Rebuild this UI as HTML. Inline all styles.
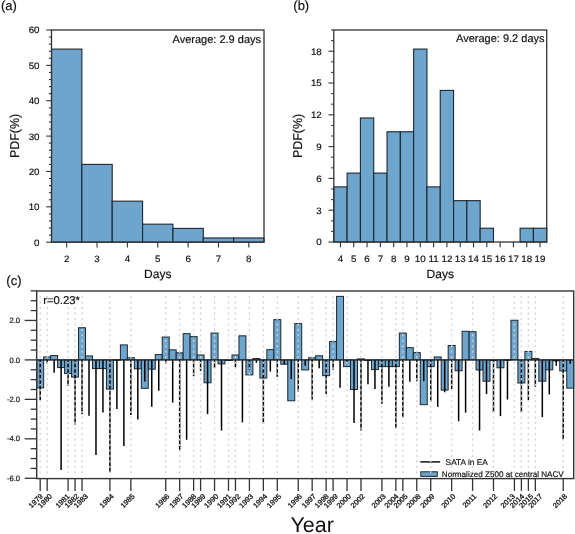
<!DOCTYPE html>
<html><head><meta charset="utf-8"><style>
html,body{margin:0;padding:0;background:#fff;}
body{width:575px;height:534px;overflow:hidden;font-family:"Liberation Sans", sans-serif;}
svg{display:block;will-change:transform;}
</style></head><body>
<svg width="575" height="534" viewBox="0 0 575 534" font-family='"Liberation Sans", sans-serif' fill="#111" text-rendering="geometricPrecision">
<style>text{stroke:#111;stroke-width:0.18px;}</style>
<rect width="575" height="534" fill="#fff"/>
<rect x="51.5" y="49.1" width="30.36" height="193.1" fill="#6da5cc" stroke="#1c2630" stroke-width="1.1"/>
<rect x="81.86" y="164.39" width="30.36" height="77.81" fill="#6da5cc" stroke="#1c2630" stroke-width="1.1"/>
<rect x="112.21" y="201.17" width="30.36" height="41.03" fill="#6da5cc" stroke="#1c2630" stroke-width="1.1"/>
<rect x="142.57" y="224.16" width="30.36" height="18.04" fill="#6da5cc" stroke="#1c2630" stroke-width="1.1"/>
<rect x="172.93" y="228.41" width="30.36" height="13.79" fill="#6da5cc" stroke="#1c2630" stroke-width="1.1"/>
<rect x="203.29" y="237.96" width="30.36" height="4.24" fill="#6da5cc" stroke="#1c2630" stroke-width="1.1"/>
<rect x="233.64" y="237.96" width="30.36" height="4.24" fill="#6da5cc" stroke="#1c2630" stroke-width="1.1"/>
<rect x="51.5" y="30" width="212.5" height="212.2" fill="none" stroke="#333" stroke-width="1.3"/>
<line x1="46.2" y1="242.2" x2="51.5" y2="242.2" stroke="#333" stroke-width="1.1"/>
<text transform="translate(39.5,245.6) scale(1.05,1)" font-size="9.3" text-anchor="end">0</text>
<line x1="48.9" y1="235.13" x2="51.5" y2="235.13" stroke="#333" stroke-width="1.1"/>
<line x1="48.9" y1="228.05" x2="51.5" y2="228.05" stroke="#333" stroke-width="1.1"/>
<line x1="48.9" y1="220.98" x2="51.5" y2="220.98" stroke="#333" stroke-width="1.1"/>
<line x1="48.9" y1="213.91" x2="51.5" y2="213.91" stroke="#333" stroke-width="1.1"/>
<line x1="46.2" y1="206.83" x2="51.5" y2="206.83" stroke="#333" stroke-width="1.1"/>
<text transform="translate(39.5,210.23) scale(1.05,1)" font-size="9.3" text-anchor="end">10</text>
<line x1="48.9" y1="199.76" x2="51.5" y2="199.76" stroke="#333" stroke-width="1.1"/>
<line x1="48.9" y1="192.69" x2="51.5" y2="192.69" stroke="#333" stroke-width="1.1"/>
<line x1="48.9" y1="185.61" x2="51.5" y2="185.61" stroke="#333" stroke-width="1.1"/>
<line x1="48.9" y1="178.54" x2="51.5" y2="178.54" stroke="#333" stroke-width="1.1"/>
<line x1="46.2" y1="171.47" x2="51.5" y2="171.47" stroke="#333" stroke-width="1.1"/>
<text transform="translate(39.5,174.87) scale(1.05,1)" font-size="9.3" text-anchor="end">20</text>
<line x1="48.9" y1="164.39" x2="51.5" y2="164.39" stroke="#333" stroke-width="1.1"/>
<line x1="48.9" y1="157.32" x2="51.5" y2="157.32" stroke="#333" stroke-width="1.1"/>
<line x1="48.9" y1="150.25" x2="51.5" y2="150.25" stroke="#333" stroke-width="1.1"/>
<line x1="48.9" y1="143.17" x2="51.5" y2="143.17" stroke="#333" stroke-width="1.1"/>
<line x1="46.2" y1="136.1" x2="51.5" y2="136.1" stroke="#333" stroke-width="1.1"/>
<text transform="translate(39.5,139.5) scale(1.05,1)" font-size="9.3" text-anchor="end">30</text>
<line x1="48.9" y1="129.03" x2="51.5" y2="129.03" stroke="#333" stroke-width="1.1"/>
<line x1="48.9" y1="121.95" x2="51.5" y2="121.95" stroke="#333" stroke-width="1.1"/>
<line x1="48.9" y1="114.88" x2="51.5" y2="114.88" stroke="#333" stroke-width="1.1"/>
<line x1="48.9" y1="107.81" x2="51.5" y2="107.81" stroke="#333" stroke-width="1.1"/>
<line x1="46.2" y1="100.73" x2="51.5" y2="100.73" stroke="#333" stroke-width="1.1"/>
<text transform="translate(39.5,104.13) scale(1.05,1)" font-size="9.3" text-anchor="end">40</text>
<line x1="48.9" y1="93.66" x2="51.5" y2="93.66" stroke="#333" stroke-width="1.1"/>
<line x1="48.9" y1="86.59" x2="51.5" y2="86.59" stroke="#333" stroke-width="1.1"/>
<line x1="48.9" y1="79.51" x2="51.5" y2="79.51" stroke="#333" stroke-width="1.1"/>
<line x1="48.9" y1="72.44" x2="51.5" y2="72.44" stroke="#333" stroke-width="1.1"/>
<line x1="46.2" y1="65.37" x2="51.5" y2="65.37" stroke="#333" stroke-width="1.1"/>
<text transform="translate(39.5,68.77) scale(1.05,1)" font-size="9.3" text-anchor="end">50</text>
<line x1="48.9" y1="58.29" x2="51.5" y2="58.29" stroke="#333" stroke-width="1.1"/>
<line x1="48.9" y1="51.22" x2="51.5" y2="51.22" stroke="#333" stroke-width="1.1"/>
<line x1="48.9" y1="44.15" x2="51.5" y2="44.15" stroke="#333" stroke-width="1.1"/>
<line x1="48.9" y1="37.07" x2="51.5" y2="37.07" stroke="#333" stroke-width="1.1"/>
<line x1="46.2" y1="30" x2="51.5" y2="30" stroke="#333" stroke-width="1.1"/>
<text transform="translate(39.5,33.4) scale(1.05,1)" font-size="9.3" text-anchor="end">60</text>
<line x1="66.68" y1="242.2" x2="66.68" y2="247.5" stroke="#333" stroke-width="1.1"/>
<text transform="translate(66.68,261.7) scale(1.05,1)" font-size="9.3" text-anchor="middle">2</text>
<line x1="97.04" y1="242.2" x2="97.04" y2="247.5" stroke="#333" stroke-width="1.1"/>
<text transform="translate(97.04,261.7) scale(1.05,1)" font-size="9.3" text-anchor="middle">3</text>
<line x1="127.39" y1="242.2" x2="127.39" y2="247.5" stroke="#333" stroke-width="1.1"/>
<text transform="translate(127.39,261.7) scale(1.05,1)" font-size="9.3" text-anchor="middle">4</text>
<line x1="157.75" y1="242.2" x2="157.75" y2="247.5" stroke="#333" stroke-width="1.1"/>
<text transform="translate(157.75,261.7) scale(1.05,1)" font-size="9.3" text-anchor="middle">5</text>
<line x1="188.11" y1="242.2" x2="188.11" y2="247.5" stroke="#333" stroke-width="1.1"/>
<text transform="translate(188.11,261.7) scale(1.05,1)" font-size="9.3" text-anchor="middle">6</text>
<line x1="218.46" y1="242.2" x2="218.46" y2="247.5" stroke="#333" stroke-width="1.1"/>
<text transform="translate(218.46,261.7) scale(1.05,1)" font-size="9.3" text-anchor="middle">7</text>
<line x1="248.82" y1="242.2" x2="248.82" y2="247.5" stroke="#333" stroke-width="1.1"/>
<text transform="translate(248.82,261.7) scale(1.05,1)" font-size="9.3" text-anchor="middle">8</text>
<text x="157.75" y="278.2" font-size="12" text-anchor="middle">Days</text>
<text transform="translate(19,136) rotate(-90) scale(0.97,1)" font-size="12.8" text-anchor="middle">PDF(%)</text>
<text x="261" y="43" font-size="11" text-anchor="end">Average: 2.9 days</text>
<text x="1" y="10" font-size="13">(a)</text>
<rect x="333.8" y="186.88" width="13.31" height="55.12" fill="#6da5cc" stroke="#1c2630" stroke-width="1.1"/>
<rect x="347.11" y="173.1" width="13.31" height="68.9" fill="#6da5cc" stroke="#1c2630" stroke-width="1.1"/>
<rect x="360.41" y="117.98" width="13.31" height="124.02" fill="#6da5cc" stroke="#1c2630" stroke-width="1.1"/>
<rect x="373.72" y="173.1" width="13.31" height="68.9" fill="#6da5cc" stroke="#1c2630" stroke-width="1.1"/>
<rect x="387.03" y="131.76" width="13.31" height="110.24" fill="#6da5cc" stroke="#1c2630" stroke-width="1.1"/>
<rect x="400.33" y="131.76" width="13.31" height="110.24" fill="#6da5cc" stroke="#1c2630" stroke-width="1.1"/>
<rect x="413.64" y="49.08" width="13.31" height="192.92" fill="#6da5cc" stroke="#1c2630" stroke-width="1.1"/>
<rect x="426.94" y="186.88" width="13.31" height="55.12" fill="#6da5cc" stroke="#1c2630" stroke-width="1.1"/>
<rect x="440.25" y="90.42" width="13.31" height="151.58" fill="#6da5cc" stroke="#1c2630" stroke-width="1.1"/>
<rect x="453.56" y="200.66" width="13.31" height="41.34" fill="#6da5cc" stroke="#1c2630" stroke-width="1.1"/>
<rect x="466.86" y="200.66" width="13.31" height="41.34" fill="#6da5cc" stroke="#1c2630" stroke-width="1.1"/>
<rect x="480.17" y="228.22" width="13.31" height="13.78" fill="#6da5cc" stroke="#1c2630" stroke-width="1.1"/>
<rect x="520.09" y="228.22" width="13.31" height="13.78" fill="#6da5cc" stroke="#1c2630" stroke-width="1.1"/>
<rect x="533.39" y="228.22" width="13.31" height="13.78" fill="#6da5cc" stroke="#1c2630" stroke-width="1.1"/>
<rect x="333.8" y="30" width="212.9" height="212" fill="none" stroke="#333" stroke-width="1.3"/>
<line x1="328.5" y1="242" x2="333.8" y2="242" stroke="#333" stroke-width="1.1"/>
<text transform="translate(321.8,245.4) scale(1.05,1)" font-size="9.3" text-anchor="end">0</text>
<line x1="331.2" y1="231.4" x2="333.8" y2="231.4" stroke="#333" stroke-width="1.1"/>
<line x1="331.2" y1="220.8" x2="333.8" y2="220.8" stroke="#333" stroke-width="1.1"/>
<line x1="328.5" y1="210.2" x2="333.8" y2="210.2" stroke="#333" stroke-width="1.1"/>
<text transform="translate(321.8,213.6) scale(1.05,1)" font-size="9.3" text-anchor="end">3</text>
<line x1="331.2" y1="199.6" x2="333.8" y2="199.6" stroke="#333" stroke-width="1.1"/>
<line x1="331.2" y1="189" x2="333.8" y2="189" stroke="#333" stroke-width="1.1"/>
<line x1="328.5" y1="178.4" x2="333.8" y2="178.4" stroke="#333" stroke-width="1.1"/>
<text transform="translate(321.8,181.8) scale(1.05,1)" font-size="9.3" text-anchor="end">6</text>
<line x1="331.2" y1="167.8" x2="333.8" y2="167.8" stroke="#333" stroke-width="1.1"/>
<line x1="331.2" y1="157.2" x2="333.8" y2="157.2" stroke="#333" stroke-width="1.1"/>
<line x1="328.5" y1="146.6" x2="333.8" y2="146.6" stroke="#333" stroke-width="1.1"/>
<text transform="translate(321.8,150) scale(1.05,1)" font-size="9.3" text-anchor="end">9</text>
<line x1="331.2" y1="136" x2="333.8" y2="136" stroke="#333" stroke-width="1.1"/>
<line x1="331.2" y1="125.4" x2="333.8" y2="125.4" stroke="#333" stroke-width="1.1"/>
<line x1="328.5" y1="114.8" x2="333.8" y2="114.8" stroke="#333" stroke-width="1.1"/>
<text transform="translate(321.8,118.2) scale(1.05,1)" font-size="9.3" text-anchor="end">12</text>
<line x1="331.2" y1="104.2" x2="333.8" y2="104.2" stroke="#333" stroke-width="1.1"/>
<line x1="331.2" y1="93.6" x2="333.8" y2="93.6" stroke="#333" stroke-width="1.1"/>
<line x1="328.5" y1="83" x2="333.8" y2="83" stroke="#333" stroke-width="1.1"/>
<text transform="translate(321.8,86.4) scale(1.05,1)" font-size="9.3" text-anchor="end">15</text>
<line x1="331.2" y1="72.4" x2="333.8" y2="72.4" stroke="#333" stroke-width="1.1"/>
<line x1="331.2" y1="61.8" x2="333.8" y2="61.8" stroke="#333" stroke-width="1.1"/>
<line x1="328.5" y1="51.2" x2="333.8" y2="51.2" stroke="#333" stroke-width="1.1"/>
<text transform="translate(321.8,54.6) scale(1.05,1)" font-size="9.3" text-anchor="end">18</text>
<line x1="331.2" y1="40.6" x2="333.8" y2="40.6" stroke="#333" stroke-width="1.1"/>
<line x1="331.2" y1="30" x2="333.8" y2="30" stroke="#333" stroke-width="1.1"/>
<line x1="340.45" y1="242" x2="340.45" y2="247.3" stroke="#333" stroke-width="1.1"/>
<text transform="translate(340.45,261.5) scale(1.05,1)" font-size="9.3" text-anchor="middle">4</text>
<line x1="353.76" y1="242" x2="353.76" y2="247.3" stroke="#333" stroke-width="1.1"/>
<text transform="translate(353.76,261.5) scale(1.05,1)" font-size="9.3" text-anchor="middle">5</text>
<line x1="367.07" y1="242" x2="367.07" y2="247.3" stroke="#333" stroke-width="1.1"/>
<text transform="translate(367.07,261.5) scale(1.05,1)" font-size="9.3" text-anchor="middle">6</text>
<line x1="380.37" y1="242" x2="380.37" y2="247.3" stroke="#333" stroke-width="1.1"/>
<text transform="translate(380.37,261.5) scale(1.05,1)" font-size="9.3" text-anchor="middle">7</text>
<line x1="393.68" y1="242" x2="393.68" y2="247.3" stroke="#333" stroke-width="1.1"/>
<text transform="translate(393.68,261.5) scale(1.05,1)" font-size="9.3" text-anchor="middle">8</text>
<line x1="406.98" y1="242" x2="406.98" y2="247.3" stroke="#333" stroke-width="1.1"/>
<text transform="translate(406.98,261.5) scale(1.05,1)" font-size="9.3" text-anchor="middle">9</text>
<line x1="420.29" y1="242" x2="420.29" y2="247.3" stroke="#333" stroke-width="1.1"/>
<text transform="translate(420.29,261.5) scale(1.05,1)" font-size="9.3" text-anchor="middle">10</text>
<line x1="433.6" y1="242" x2="433.6" y2="247.3" stroke="#333" stroke-width="1.1"/>
<text transform="translate(433.6,261.5) scale(1.05,1)" font-size="9.3" text-anchor="middle">11</text>
<line x1="446.9" y1="242" x2="446.9" y2="247.3" stroke="#333" stroke-width="1.1"/>
<text transform="translate(446.9,261.5) scale(1.05,1)" font-size="9.3" text-anchor="middle">12</text>
<line x1="460.21" y1="242" x2="460.21" y2="247.3" stroke="#333" stroke-width="1.1"/>
<text transform="translate(460.21,261.5) scale(1.05,1)" font-size="9.3" text-anchor="middle">13</text>
<line x1="473.52" y1="242" x2="473.52" y2="247.3" stroke="#333" stroke-width="1.1"/>
<text transform="translate(473.52,261.5) scale(1.05,1)" font-size="9.3" text-anchor="middle">14</text>
<line x1="486.82" y1="242" x2="486.82" y2="247.3" stroke="#333" stroke-width="1.1"/>
<text transform="translate(486.82,261.5) scale(1.05,1)" font-size="9.3" text-anchor="middle">15</text>
<line x1="500.13" y1="242" x2="500.13" y2="247.3" stroke="#333" stroke-width="1.1"/>
<text transform="translate(500.13,261.5) scale(1.05,1)" font-size="9.3" text-anchor="middle">16</text>
<line x1="513.43" y1="242" x2="513.43" y2="247.3" stroke="#333" stroke-width="1.1"/>
<text transform="translate(513.43,261.5) scale(1.05,1)" font-size="9.3" text-anchor="middle">17</text>
<line x1="526.74" y1="242" x2="526.74" y2="247.3" stroke="#333" stroke-width="1.1"/>
<text transform="translate(526.74,261.5) scale(1.05,1)" font-size="9.3" text-anchor="middle">18</text>
<line x1="540.05" y1="242" x2="540.05" y2="247.3" stroke="#333" stroke-width="1.1"/>
<text transform="translate(540.05,261.5) scale(1.05,1)" font-size="9.3" text-anchor="middle">19</text>
<text x="440.25" y="278.2" font-size="12" text-anchor="middle">Days</text>
<text transform="translate(302,136) rotate(-90) scale(0.97,1)" font-size="12.8" text-anchor="middle">PDF(%)</text>
<text x="544.5" y="41.7" font-size="11" text-anchor="end">Average: 9.2 days</text>
<text x="293.3" y="10" font-size="13">(b)</text>
<rect x="36.7" y="359.9" width="6.97" height="28.02" fill="#6da5cc" stroke="#1c2630" stroke-width="1"/>
<rect x="43.67" y="356.94" width="6.97" height="2.96" fill="#6da5cc" stroke="#1c2630" stroke-width="1"/>
<rect x="50.65" y="355.56" width="6.97" height="4.34" fill="#6da5cc" stroke="#1c2630" stroke-width="1"/>
<rect x="57.62" y="359.9" width="6.97" height="7.69" fill="#6da5cc" stroke="#1c2630" stroke-width="1"/>
<rect x="64.6" y="359.9" width="6.97" height="13.61" fill="#6da5cc" stroke="#1c2630" stroke-width="1"/>
<rect x="71.57" y="359.9" width="6.97" height="17.17" fill="#6da5cc" stroke="#1c2630" stroke-width="1"/>
<rect x="78.54" y="327.74" width="6.97" height="32.16" fill="#6da5cc" stroke="#1c2630" stroke-width="1"/>
<rect x="85.52" y="355.95" width="6.97" height="3.95" fill="#6da5cc" stroke="#1c2630" stroke-width="1"/>
<rect x="92.49" y="359.9" width="6.97" height="8.68" fill="#6da5cc" stroke="#1c2630" stroke-width="1"/>
<rect x="99.47" y="359.9" width="6.97" height="8.68" fill="#6da5cc" stroke="#1c2630" stroke-width="1"/>
<rect x="106.44" y="359.9" width="6.97" height="29.2" fill="#6da5cc" stroke="#1c2630" stroke-width="1"/>
<rect x="113.41" y="359.7" width="6.97" height="0.6" fill="#6da5cc" stroke="#1c2630" stroke-width="1"/>
<rect x="120.39" y="344.91" width="6.97" height="14.99" fill="#6da5cc" stroke="#1c2630" stroke-width="1"/>
<rect x="127.36" y="357.73" width="6.97" height="2.17" fill="#6da5cc" stroke="#1c2630" stroke-width="1"/>
<rect x="134.34" y="359.9" width="6.97" height="8.88" fill="#6da5cc" stroke="#1c2630" stroke-width="1"/>
<rect x="141.31" y="359.9" width="6.97" height="28.41" fill="#6da5cc" stroke="#1c2630" stroke-width="1"/>
<rect x="148.28" y="359.9" width="6.97" height="9.27" fill="#6da5cc" stroke="#1c2630" stroke-width="1"/>
<rect x="155.26" y="354.57" width="6.97" height="5.33" fill="#6da5cc" stroke="#1c2630" stroke-width="1"/>
<rect x="162.23" y="337.01" width="6.97" height="22.89" fill="#6da5cc" stroke="#1c2630" stroke-width="1"/>
<rect x="169.21" y="349.84" width="6.97" height="10.06" fill="#6da5cc" stroke="#1c2630" stroke-width="1"/>
<rect x="176.18" y="352.8" width="6.97" height="7.1" fill="#6da5cc" stroke="#1c2630" stroke-width="1"/>
<rect x="183.15" y="333.66" width="6.97" height="26.24" fill="#6da5cc" stroke="#1c2630" stroke-width="1"/>
<rect x="190.13" y="336.62" width="6.97" height="23.28" fill="#6da5cc" stroke="#1c2630" stroke-width="1"/>
<rect x="197.1" y="354.97" width="6.97" height="4.93" fill="#6da5cc" stroke="#1c2630" stroke-width="1"/>
<rect x="204.08" y="359.9" width="6.97" height="22.89" fill="#6da5cc" stroke="#1c2630" stroke-width="1"/>
<rect x="211.05" y="333.07" width="6.97" height="26.83" fill="#6da5cc" stroke="#1c2630" stroke-width="1"/>
<rect x="218.02" y="359.9" width="6.97" height="3.95" fill="#6da5cc" stroke="#1c2630" stroke-width="1"/>
<rect x="225" y="359.9" width="6.97" height="0.6" fill="#6da5cc" stroke="#1c2630" stroke-width="1"/>
<rect x="231.97" y="354.97" width="6.97" height="4.93" fill="#6da5cc" stroke="#1c2630" stroke-width="1"/>
<rect x="238.95" y="335.83" width="6.97" height="24.07" fill="#6da5cc" stroke="#1c2630" stroke-width="1"/>
<rect x="245.92" y="359.9" width="6.97" height="14.99" fill="#6da5cc" stroke="#1c2630" stroke-width="1"/>
<rect x="252.89" y="358.52" width="6.97" height="1.38" fill="#6da5cc" stroke="#1c2630" stroke-width="1"/>
<rect x="259.87" y="359.9" width="6.97" height="18.15" fill="#6da5cc" stroke="#1c2630" stroke-width="1"/>
<rect x="266.84" y="349.64" width="6.97" height="10.26" fill="#6da5cc" stroke="#1c2630" stroke-width="1"/>
<rect x="273.82" y="319.65" width="6.97" height="40.25" fill="#6da5cc" stroke="#1c2630" stroke-width="1"/>
<rect x="280.79" y="359.9" width="6.97" height="4.34" fill="#6da5cc" stroke="#1c2630" stroke-width="1"/>
<rect x="287.76" y="359.9" width="6.97" height="40.84" fill="#6da5cc" stroke="#1c2630" stroke-width="1"/>
<rect x="294.74" y="323.6" width="6.97" height="36.3" fill="#6da5cc" stroke="#1c2630" stroke-width="1"/>
<rect x="301.71" y="359.9" width="6.97" height="10.06" fill="#6da5cc" stroke="#1c2630" stroke-width="1"/>
<rect x="308.69" y="357.73" width="6.97" height="2.17" fill="#6da5cc" stroke="#1c2630" stroke-width="1"/>
<rect x="315.66" y="355.76" width="6.97" height="4.14" fill="#6da5cc" stroke="#1c2630" stroke-width="1"/>
<rect x="322.64" y="359.9" width="6.97" height="15.78" fill="#6da5cc" stroke="#1c2630" stroke-width="1"/>
<rect x="329.61" y="341.55" width="6.97" height="18.35" fill="#6da5cc" stroke="#1c2630" stroke-width="1"/>
<rect x="336.58" y="296.37" width="6.97" height="63.53" fill="#6da5cc" stroke="#1c2630" stroke-width="1"/>
<rect x="343.56" y="359.9" width="6.97" height="6.71" fill="#6da5cc" stroke="#1c2630" stroke-width="1"/>
<rect x="350.53" y="359.9" width="6.97" height="29.59" fill="#6da5cc" stroke="#1c2630" stroke-width="1"/>
<rect x="357.51" y="358.91" width="6.97" height="0.99" fill="#6da5cc" stroke="#1c2630" stroke-width="1"/>
<rect x="364.48" y="359.9" width="6.97" height="0.6" fill="#6da5cc" stroke="#1c2630" stroke-width="1"/>
<rect x="371.45" y="359.9" width="6.97" height="9.67" fill="#6da5cc" stroke="#1c2630" stroke-width="1"/>
<rect x="378.43" y="359.9" width="6.97" height="6.71" fill="#6da5cc" stroke="#1c2630" stroke-width="1"/>
<rect x="385.4" y="359.9" width="6.97" height="6.71" fill="#6da5cc" stroke="#1c2630" stroke-width="1"/>
<rect x="392.38" y="359.9" width="6.97" height="6.71" fill="#6da5cc" stroke="#1c2630" stroke-width="1"/>
<rect x="399.35" y="333.07" width="6.97" height="26.83" fill="#6da5cc" stroke="#1c2630" stroke-width="1"/>
<rect x="406.32" y="347.67" width="6.97" height="12.23" fill="#6da5cc" stroke="#1c2630" stroke-width="1"/>
<rect x="413.3" y="352.6" width="6.97" height="7.3" fill="#6da5cc" stroke="#1c2630" stroke-width="1"/>
<rect x="420.27" y="359.9" width="6.97" height="44.79" fill="#6da5cc" stroke="#1c2630" stroke-width="1"/>
<rect x="427.25" y="359.9" width="6.97" height="6.71" fill="#6da5cc" stroke="#1c2630" stroke-width="1"/>
<rect x="434.22" y="356.94" width="6.97" height="2.96" fill="#6da5cc" stroke="#1c2630" stroke-width="1"/>
<rect x="441.19" y="359.9" width="6.97" height="30.19" fill="#6da5cc" stroke="#1c2630" stroke-width="1"/>
<rect x="448.17" y="345.5" width="6.97" height="14.4" fill="#6da5cc" stroke="#1c2630" stroke-width="1"/>
<rect x="455.14" y="359.9" width="6.97" height="10.85" fill="#6da5cc" stroke="#1c2630" stroke-width="1"/>
<rect x="462.12" y="331.29" width="6.97" height="28.61" fill="#6da5cc" stroke="#1c2630" stroke-width="1"/>
<rect x="469.09" y="331.69" width="6.97" height="28.21" fill="#6da5cc" stroke="#1c2630" stroke-width="1"/>
<rect x="476.06" y="359.9" width="6.97" height="10.06" fill="#6da5cc" stroke="#1c2630" stroke-width="1"/>
<rect x="483.04" y="359.9" width="6.97" height="21.31" fill="#6da5cc" stroke="#1c2630" stroke-width="1"/>
<rect x="490.01" y="359.9" width="6.97" height="0.6" fill="#6da5cc" stroke="#1c2630" stroke-width="1"/>
<rect x="496.99" y="359.9" width="6.97" height="7.89" fill="#6da5cc" stroke="#1c2630" stroke-width="1"/>
<rect x="503.96" y="359.7" width="6.97" height="0.6" fill="#6da5cc" stroke="#1c2630" stroke-width="1"/>
<rect x="510.93" y="320.24" width="6.97" height="39.66" fill="#6da5cc" stroke="#1c2630" stroke-width="1"/>
<rect x="517.91" y="359.9" width="6.97" height="23.08" fill="#6da5cc" stroke="#1c2630" stroke-width="1"/>
<rect x="524.88" y="351.42" width="6.97" height="8.48" fill="#6da5cc" stroke="#1c2630" stroke-width="1"/>
<rect x="531.86" y="358.52" width="6.97" height="1.38" fill="#6da5cc" stroke="#1c2630" stroke-width="1"/>
<rect x="538.83" y="359.9" width="6.97" height="21.31" fill="#6da5cc" stroke="#1c2630" stroke-width="1"/>
<rect x="545.8" y="359.9" width="6.97" height="9.87" fill="#6da5cc" stroke="#1c2630" stroke-width="1"/>
<rect x="552.78" y="359.9" width="6.97" height="0.99" fill="#6da5cc" stroke="#1c2630" stroke-width="1"/>
<rect x="559.75" y="359.9" width="6.97" height="11.05" fill="#6da5cc" stroke="#1c2630" stroke-width="1"/>
<rect x="566.73" y="359.9" width="6.97" height="28.21" fill="#6da5cc" stroke="#1c2630" stroke-width="1"/>
<line x1="40.19" y1="359.9" x2="40.19" y2="400.15" stroke="#000" stroke-width="1.5"/>
<line x1="47.16" y1="359.9" x2="47.16" y2="363.45" stroke="#000" stroke-width="1.5"/>
<line x1="54.14" y1="359.9" x2="54.14" y2="372.72" stroke="#000" stroke-width="1.5"/>
<line x1="61.11" y1="359.9" x2="61.11" y2="469.99" stroke="#000" stroke-width="1.5"/>
<line x1="68.08" y1="359.9" x2="68.08" y2="385.94" stroke="#000" stroke-width="1.5"/>
<line x1="75.06" y1="359.9" x2="75.06" y2="424.61" stroke="#000" stroke-width="1.5"/>
<line x1="82.03" y1="359.9" x2="82.03" y2="414.35" stroke="#000" stroke-width="1.5"/>
<line x1="89.01" y1="359.9" x2="89.01" y2="415.74" stroke="#000" stroke-width="1.5"/>
<line x1="95.98" y1="359.9" x2="95.98" y2="455" stroke="#000" stroke-width="1.5"/>
<line x1="102.95" y1="359.9" x2="102.95" y2="412.38" stroke="#000" stroke-width="1.5"/>
<line x1="109.93" y1="359.9" x2="109.93" y2="472.36" stroke="#000" stroke-width="1.5"/>
<line x1="116.9" y1="359.9" x2="116.9" y2="409.03" stroke="#000" stroke-width="1.5"/>
<line x1="123.88" y1="359.9" x2="123.88" y2="446.12" stroke="#000" stroke-width="1.5"/>
<line x1="130.85" y1="359.9" x2="130.85" y2="414.95" stroke="#000" stroke-width="1.5"/>
<line x1="137.82" y1="359.9" x2="137.82" y2="419.48" stroke="#000" stroke-width="1.5"/>
<line x1="144.8" y1="359.9" x2="144.8" y2="381.6" stroke="#000" stroke-width="1.5"/>
<line x1="151.77" y1="359.9" x2="151.77" y2="406.86" stroke="#000" stroke-width="1.5"/>
<line x1="158.75" y1="359.9" x2="158.75" y2="390.68" stroke="#000" stroke-width="1.5"/>
<line x1="165.72" y1="359.9" x2="165.72" y2="363.85" stroke="#000" stroke-width="1.5"/>
<line x1="172.69" y1="359.9" x2="172.69" y2="402.52" stroke="#000" stroke-width="1.5"/>
<line x1="179.67" y1="359.9" x2="179.67" y2="450.66" stroke="#000" stroke-width="1.5"/>
<line x1="186.64" y1="359.9" x2="186.64" y2="439.81" stroke="#000" stroke-width="1.5"/>
<line x1="193.62" y1="359.9" x2="193.62" y2="376.28" stroke="#000" stroke-width="1.5"/>
<line x1="200.59" y1="359.9" x2="200.59" y2="370.95" stroke="#000" stroke-width="1.5"/>
<line x1="207.56" y1="359.9" x2="207.56" y2="414.16" stroke="#000" stroke-width="1.5"/>
<line x1="214.54" y1="359.9" x2="214.54" y2="368.19" stroke="#000" stroke-width="1.5"/>
<line x1="221.51" y1="359.9" x2="221.51" y2="430.53" stroke="#000" stroke-width="1.5"/>
<line x1="228.49" y1="359.9" x2="228.49" y2="360.89" stroke="#000" stroke-width="1.5"/>
<line x1="235.46" y1="359.9" x2="235.46" y2="367.4" stroke="#000" stroke-width="1.5"/>
<line x1="242.43" y1="359.9" x2="242.43" y2="422.44" stroke="#000" stroke-width="1.5"/>
<line x1="249.41" y1="359.9" x2="249.41" y2="369.76" stroke="#000" stroke-width="1.5"/>
<line x1="256.38" y1="359.9" x2="256.38" y2="362.86" stroke="#000" stroke-width="1.5"/>
<line x1="263.36" y1="359.9" x2="263.36" y2="423.43" stroke="#000" stroke-width="1.5"/>
<line x1="270.33" y1="359.9" x2="270.33" y2="371.54" stroke="#000" stroke-width="1.5"/>
<line x1="277.3" y1="359.9" x2="277.3" y2="376.87" stroke="#000" stroke-width="1.5"/>
<line x1="284.28" y1="359.9" x2="284.28" y2="364.04" stroke="#000" stroke-width="1.5"/>
<line x1="291.25" y1="359.9" x2="291.25" y2="379.04" stroke="#000" stroke-width="1.5"/>
<line x1="298.23" y1="359.9" x2="298.23" y2="391.47" stroke="#000" stroke-width="1.5"/>
<line x1="305.2" y1="359.9" x2="305.2" y2="365.82" stroke="#000" stroke-width="1.5"/>
<line x1="312.17" y1="359.9" x2="312.17" y2="399.56" stroke="#000" stroke-width="1.5"/>
<line x1="319.15" y1="359.9" x2="319.15" y2="368.19" stroke="#000" stroke-width="1.5"/>
<line x1="326.12" y1="359.9" x2="326.12" y2="394.03" stroke="#000" stroke-width="1.5"/>
<line x1="333.1" y1="359.9" x2="333.1" y2="369.76" stroke="#000" stroke-width="1.5"/>
<line x1="340.07" y1="359.9" x2="340.07" y2="387.72" stroke="#000" stroke-width="1.5"/>
<line x1="347.04" y1="359.9" x2="347.04" y2="361.87" stroke="#000" stroke-width="1.5"/>
<line x1="354.02" y1="359.9" x2="354.02" y2="423.04" stroke="#000" stroke-width="1.5"/>
<line x1="360.99" y1="359.9" x2="360.99" y2="430.53" stroke="#000" stroke-width="1.5"/>
<line x1="367.97" y1="359.9" x2="367.97" y2="384.17" stroke="#000" stroke-width="1.5"/>
<line x1="374.94" y1="359.9" x2="374.94" y2="388.9" stroke="#000" stroke-width="1.5"/>
<line x1="381.91" y1="359.9" x2="381.91" y2="403.7" stroke="#000" stroke-width="1.5"/>
<line x1="388.89" y1="359.9" x2="388.89" y2="386.73" stroke="#000" stroke-width="1.5"/>
<line x1="395.86" y1="359.9" x2="395.86" y2="427.77" stroke="#000" stroke-width="1.5"/>
<line x1="402.84" y1="359.9" x2="402.84" y2="417.12" stroke="#000" stroke-width="1.5"/>
<line x1="409.81" y1="359.9" x2="409.81" y2="381.8" stroke="#000" stroke-width="1.5"/>
<line x1="416.78" y1="359.9" x2="416.78" y2="381.21" stroke="#000" stroke-width="1.5"/>
<line x1="423.76" y1="359.9" x2="423.76" y2="381.21" stroke="#000" stroke-width="1.5"/>
<line x1="430.73" y1="359.9" x2="430.73" y2="401.92" stroke="#000" stroke-width="1.5"/>
<line x1="437.71" y1="359.9" x2="437.71" y2="406.86" stroke="#000" stroke-width="1.5"/>
<line x1="444.68" y1="359.9" x2="444.68" y2="392.26" stroke="#000" stroke-width="1.5"/>
<line x1="451.65" y1="359.9" x2="451.65" y2="388.9" stroke="#000" stroke-width="1.5"/>
<line x1="458.63" y1="359.9" x2="458.63" y2="421.26" stroke="#000" stroke-width="1.5"/>
<line x1="465.6" y1="359.9" x2="465.6" y2="412.58" stroke="#000" stroke-width="1.5"/>
<line x1="472.58" y1="359.9" x2="472.58" y2="360.29" stroke="#000" stroke-width="1.5"/>
<line x1="479.55" y1="359.9" x2="479.55" y2="430.53" stroke="#000" stroke-width="1.5"/>
<line x1="486.52" y1="359.9" x2="486.52" y2="394.03" stroke="#000" stroke-width="1.5"/>
<line x1="493.5" y1="359.9" x2="493.5" y2="412.58" stroke="#000" stroke-width="1.5"/>
<line x1="500.47" y1="359.9" x2="500.47" y2="416.13" stroke="#000" stroke-width="1.5"/>
<line x1="507.45" y1="359.9" x2="507.45" y2="399.56" stroke="#000" stroke-width="1.5"/>
<line x1="514.42" y1="359.9" x2="514.42" y2="360.29" stroke="#000" stroke-width="1.5"/>
<line x1="521.39" y1="359.9" x2="521.39" y2="412.38" stroke="#000" stroke-width="1.5"/>
<line x1="528.37" y1="359.9" x2="528.37" y2="400.15" stroke="#000" stroke-width="1.5"/>
<line x1="535.34" y1="359.9" x2="535.34" y2="386.73" stroke="#000" stroke-width="1.5"/>
<line x1="542.32" y1="359.9" x2="542.32" y2="417.12" stroke="#000" stroke-width="1.5"/>
<line x1="549.29" y1="359.9" x2="549.29" y2="394.43" stroke="#000" stroke-width="1.5"/>
<line x1="556.26" y1="359.9" x2="556.26" y2="365.82" stroke="#000" stroke-width="1.5"/>
<line x1="563.24" y1="359.9" x2="563.24" y2="439.41" stroke="#000" stroke-width="1.5"/>
<line x1="570.21" y1="359.9" x2="570.21" y2="363.85" stroke="#000" stroke-width="1.5"/>
<line x1="36.7" y1="359.9" x2="573.7" y2="359.9" stroke="#222" stroke-width="1"/>
<line x1="420.3" y1="461.9" x2="440.1" y2="461.9" stroke="#000" stroke-width="1.4"/>
<rect x="420.8" y="471.8" width="16.5" height="4.6" fill="#6da5cc" stroke="#1c2630" stroke-width="1"/>
<line x1="40.19" y1="296" x2="40.19" y2="473.5" stroke="#d3d3d3" stroke-width="1.35" stroke-dasharray="2 3.48"/>
<line x1="47.16" y1="296" x2="47.16" y2="473.5" stroke="#d3d3d3" stroke-width="1.35" stroke-dasharray="2 3.48"/>
<line x1="68.08" y1="296" x2="68.08" y2="473.5" stroke="#d3d3d3" stroke-width="1.35" stroke-dasharray="2 3.48"/>
<line x1="75.06" y1="296" x2="75.06" y2="473.5" stroke="#d3d3d3" stroke-width="1.35" stroke-dasharray="2 3.48"/>
<line x1="82.03" y1="296" x2="82.03" y2="473.5" stroke="#d3d3d3" stroke-width="1.35" stroke-dasharray="2 3.48"/>
<line x1="109.93" y1="296" x2="109.93" y2="473.5" stroke="#d3d3d3" stroke-width="1.35" stroke-dasharray="2 3.48"/>
<line x1="130.85" y1="296" x2="130.85" y2="473.5" stroke="#d3d3d3" stroke-width="1.35" stroke-dasharray="2 3.48"/>
<line x1="165.72" y1="296" x2="165.72" y2="473.5" stroke="#d3d3d3" stroke-width="1.35" stroke-dasharray="2 3.48"/>
<line x1="179.67" y1="296" x2="179.67" y2="473.5" stroke="#d3d3d3" stroke-width="1.35" stroke-dasharray="2 3.48"/>
<line x1="193.62" y1="296" x2="193.62" y2="473.5" stroke="#d3d3d3" stroke-width="1.35" stroke-dasharray="2 3.48"/>
<line x1="200.59" y1="296" x2="200.59" y2="473.5" stroke="#d3d3d3" stroke-width="1.35" stroke-dasharray="2 3.48"/>
<line x1="214.54" y1="296" x2="214.54" y2="473.5" stroke="#d3d3d3" stroke-width="1.35" stroke-dasharray="2 3.48"/>
<line x1="228.49" y1="296" x2="228.49" y2="473.5" stroke="#d3d3d3" stroke-width="1.35" stroke-dasharray="2 3.48"/>
<line x1="235.46" y1="296" x2="235.46" y2="473.5" stroke="#d3d3d3" stroke-width="1.35" stroke-dasharray="2 3.48"/>
<line x1="249.41" y1="296" x2="249.41" y2="473.5" stroke="#d3d3d3" stroke-width="1.35" stroke-dasharray="2 3.48"/>
<line x1="263.36" y1="296" x2="263.36" y2="473.5" stroke="#d3d3d3" stroke-width="1.35" stroke-dasharray="2 3.48"/>
<line x1="277.3" y1="296" x2="277.3" y2="473.5" stroke="#d3d3d3" stroke-width="1.35" stroke-dasharray="2 3.48"/>
<line x1="298.23" y1="296" x2="298.23" y2="473.5" stroke="#d3d3d3" stroke-width="1.35" stroke-dasharray="2 3.48"/>
<line x1="312.17" y1="296" x2="312.17" y2="473.5" stroke="#d3d3d3" stroke-width="1.35" stroke-dasharray="2 3.48"/>
<line x1="326.12" y1="296" x2="326.12" y2="473.5" stroke="#d3d3d3" stroke-width="1.35" stroke-dasharray="2 3.48"/>
<line x1="333.1" y1="296" x2="333.1" y2="473.5" stroke="#d3d3d3" stroke-width="1.35" stroke-dasharray="2 3.48"/>
<line x1="347.04" y1="296" x2="347.04" y2="473.5" stroke="#d3d3d3" stroke-width="1.35" stroke-dasharray="2 3.48"/>
<line x1="360.99" y1="296" x2="360.99" y2="473.5" stroke="#d3d3d3" stroke-width="1.35" stroke-dasharray="2 3.48"/>
<line x1="381.91" y1="296" x2="381.91" y2="473.5" stroke="#d3d3d3" stroke-width="1.35" stroke-dasharray="2 3.48"/>
<line x1="395.86" y1="296" x2="395.86" y2="473.5" stroke="#d3d3d3" stroke-width="1.35" stroke-dasharray="2 3.48"/>
<line x1="402.84" y1="296" x2="402.84" y2="473.5" stroke="#d3d3d3" stroke-width="1.35" stroke-dasharray="2 3.48"/>
<line x1="416.78" y1="296" x2="416.78" y2="473.5" stroke="#d3d3d3" stroke-width="1.35" stroke-dasharray="2 3.48"/>
<line x1="430.73" y1="296" x2="430.73" y2="473.5" stroke="#d3d3d3" stroke-width="1.35" stroke-dasharray="2 3.48"/>
<line x1="451.65" y1="296" x2="451.65" y2="473.5" stroke="#d3d3d3" stroke-width="1.35" stroke-dasharray="2 3.48"/>
<line x1="472.58" y1="296" x2="472.58" y2="473.5" stroke="#d3d3d3" stroke-width="1.35" stroke-dasharray="2 3.48"/>
<line x1="493.5" y1="296" x2="493.5" y2="473.5" stroke="#d3d3d3" stroke-width="1.35" stroke-dasharray="2 3.48"/>
<line x1="514.42" y1="296" x2="514.42" y2="473.5" stroke="#d3d3d3" stroke-width="1.35" stroke-dasharray="2 3.48"/>
<line x1="521.39" y1="296" x2="521.39" y2="473.5" stroke="#d3d3d3" stroke-width="1.35" stroke-dasharray="2 3.48"/>
<line x1="528.37" y1="296" x2="528.37" y2="473.5" stroke="#d3d3d3" stroke-width="1.35" stroke-dasharray="2 3.48"/>
<line x1="535.34" y1="296" x2="535.34" y2="473.5" stroke="#d3d3d3" stroke-width="1.35" stroke-dasharray="2 3.48"/>
<line x1="563.24" y1="296" x2="563.24" y2="473.5" stroke="#d3d3d3" stroke-width="1.35" stroke-dasharray="2 3.48"/>
<rect x="36.7" y="291" width="537" height="187.6" fill="none" stroke="#333" stroke-width="1.4"/>
<line x1="30.7" y1="290.84" x2="36.7" y2="290.84" stroke="#333" stroke-width="1.3"/>
<line x1="30.7" y1="300.71" x2="36.7" y2="300.71" stroke="#333" stroke-width="1.3"/>
<line x1="30.7" y1="310.57" x2="36.7" y2="310.57" stroke="#333" stroke-width="1.3"/>
<line x1="24.7" y1="320.44" x2="36.7" y2="320.44" stroke="#333" stroke-width="1.3"/>
<text x="20" y="323.04" font-size="7.6" text-anchor="end">2.0</text>
<line x1="30.7" y1="330.3" x2="36.7" y2="330.3" stroke="#333" stroke-width="1.3"/>
<line x1="30.7" y1="340.17" x2="36.7" y2="340.17" stroke="#333" stroke-width="1.3"/>
<line x1="30.7" y1="350.03" x2="36.7" y2="350.03" stroke="#333" stroke-width="1.3"/>
<line x1="24.7" y1="359.9" x2="36.7" y2="359.9" stroke="#333" stroke-width="1.3"/>
<text x="20" y="362.5" font-size="7.6" text-anchor="end">0.0</text>
<line x1="30.7" y1="369.76" x2="36.7" y2="369.76" stroke="#333" stroke-width="1.3"/>
<line x1="30.7" y1="379.63" x2="36.7" y2="379.63" stroke="#333" stroke-width="1.3"/>
<line x1="30.7" y1="389.5" x2="36.7" y2="389.5" stroke="#333" stroke-width="1.3"/>
<line x1="24.7" y1="399.36" x2="36.7" y2="399.36" stroke="#333" stroke-width="1.3"/>
<text x="20" y="401.96" font-size="7.6" text-anchor="end">-2.0</text>
<line x1="30.7" y1="409.22" x2="36.7" y2="409.22" stroke="#333" stroke-width="1.3"/>
<line x1="30.7" y1="419.09" x2="36.7" y2="419.09" stroke="#333" stroke-width="1.3"/>
<line x1="30.7" y1="428.95" x2="36.7" y2="428.95" stroke="#333" stroke-width="1.3"/>
<line x1="24.7" y1="438.82" x2="36.7" y2="438.82" stroke="#333" stroke-width="1.3"/>
<text x="20" y="441.42" font-size="7.6" text-anchor="end">-4.0</text>
<line x1="30.7" y1="448.68" x2="36.7" y2="448.68" stroke="#333" stroke-width="1.3"/>
<line x1="30.7" y1="458.55" x2="36.7" y2="458.55" stroke="#333" stroke-width="1.3"/>
<line x1="30.7" y1="468.41" x2="36.7" y2="468.41" stroke="#333" stroke-width="1.3"/>
<line x1="24.7" y1="478.28" x2="36.7" y2="478.28" stroke="#333" stroke-width="1.3"/>
<text x="20" y="480.88" font-size="7.6" text-anchor="end">-6.0</text>
<line x1="40.19" y1="478.6" x2="40.19" y2="490.9" stroke="#333" stroke-width="1.3"/>
<text transform="translate(43.37,496.7) rotate(-45) scale(1.04,1)" font-size="7.2" style="stroke-width:0.3px" text-anchor="end">1979</text>
<line x1="47.16" y1="478.6" x2="47.16" y2="490.9" stroke="#333" stroke-width="1.3"/>
<text transform="translate(52.57,496.7) rotate(-45) scale(1.04,1)" font-size="7.2" style="stroke-width:0.3px" text-anchor="end">1980</text>
<line x1="68.08" y1="478.6" x2="68.08" y2="490.9" stroke="#333" stroke-width="1.3"/>
<text transform="translate(70.16,496.7) rotate(-45) scale(1.04,1)" font-size="7.2" style="stroke-width:0.3px" text-anchor="end">1981</text>
<line x1="75.06" y1="478.6" x2="75.06" y2="490.9" stroke="#333" stroke-width="1.3"/>
<text transform="translate(79.36,496.7) rotate(-45) scale(1.04,1)" font-size="7.2" style="stroke-width:0.3px" text-anchor="end">1982</text>
<line x1="82.03" y1="478.6" x2="82.03" y2="490.9" stroke="#333" stroke-width="1.3"/>
<text transform="translate(88.56,496.7) rotate(-45) scale(1.04,1)" font-size="7.2" style="stroke-width:0.3px" text-anchor="end">1983</text>
<line x1="109.93" y1="478.6" x2="109.93" y2="490.9" stroke="#333" stroke-width="1.3"/>
<text transform="translate(114.23,496.7) rotate(-45) scale(1.04,1)" font-size="7.2" style="stroke-width:0.3px" text-anchor="end">1984</text>
<line x1="130.85" y1="478.6" x2="130.85" y2="490.9" stroke="#333" stroke-width="1.3"/>
<text transform="translate(135.15,496.7) rotate(-45) scale(1.04,1)" font-size="7.2" style="stroke-width:0.3px" text-anchor="end">1985</text>
<line x1="165.72" y1="478.6" x2="165.72" y2="490.9" stroke="#333" stroke-width="1.3"/>
<text transform="translate(170.02,496.7) rotate(-45) scale(1.04,1)" font-size="7.2" style="stroke-width:0.3px" text-anchor="end">1986</text>
<line x1="179.67" y1="478.6" x2="179.67" y2="490.9" stroke="#333" stroke-width="1.3"/>
<text transform="translate(183.97,496.7) rotate(-45) scale(1.04,1)" font-size="7.2" style="stroke-width:0.3px" text-anchor="end">1987</text>
<line x1="193.62" y1="478.6" x2="193.62" y2="490.9" stroke="#333" stroke-width="1.3"/>
<text transform="translate(196.8,496.7) rotate(-45) scale(1.04,1)" font-size="7.2" style="stroke-width:0.3px" text-anchor="end">1988</text>
<line x1="200.59" y1="478.6" x2="200.59" y2="490.9" stroke="#333" stroke-width="1.3"/>
<text transform="translate(206,496.7) rotate(-45) scale(1.04,1)" font-size="7.2" style="stroke-width:0.3px" text-anchor="end">1989</text>
<line x1="214.54" y1="478.6" x2="214.54" y2="490.9" stroke="#333" stroke-width="1.3"/>
<text transform="translate(218.84,496.7) rotate(-45) scale(1.04,1)" font-size="7.2" style="stroke-width:0.3px" text-anchor="end">1990</text>
<line x1="228.49" y1="478.6" x2="228.49" y2="490.9" stroke="#333" stroke-width="1.3"/>
<text transform="translate(231.67,496.7) rotate(-45) scale(1.04,1)" font-size="7.2" style="stroke-width:0.3px" text-anchor="end">1991</text>
<line x1="235.46" y1="478.6" x2="235.46" y2="490.9" stroke="#333" stroke-width="1.3"/>
<text transform="translate(240.87,496.7) rotate(-45) scale(1.04,1)" font-size="7.2" style="stroke-width:0.3px" text-anchor="end">1992</text>
<line x1="249.41" y1="478.6" x2="249.41" y2="490.9" stroke="#333" stroke-width="1.3"/>
<text transform="translate(253.71,496.7) rotate(-45) scale(1.04,1)" font-size="7.2" style="stroke-width:0.3px" text-anchor="end">1993</text>
<line x1="263.36" y1="478.6" x2="263.36" y2="490.9" stroke="#333" stroke-width="1.3"/>
<text transform="translate(267.66,496.7) rotate(-45) scale(1.04,1)" font-size="7.2" style="stroke-width:0.3px" text-anchor="end">1994</text>
<line x1="277.3" y1="478.6" x2="277.3" y2="490.9" stroke="#333" stroke-width="1.3"/>
<text transform="translate(281.6,496.7) rotate(-45) scale(1.04,1)" font-size="7.2" style="stroke-width:0.3px" text-anchor="end">1995</text>
<line x1="298.23" y1="478.6" x2="298.23" y2="490.9" stroke="#333" stroke-width="1.3"/>
<text transform="translate(302.53,496.7) rotate(-45) scale(1.04,1)" font-size="7.2" style="stroke-width:0.3px" text-anchor="end">1996</text>
<line x1="312.17" y1="478.6" x2="312.17" y2="490.9" stroke="#333" stroke-width="1.3"/>
<text transform="translate(316.47,496.7) rotate(-45) scale(1.04,1)" font-size="7.2" style="stroke-width:0.3px" text-anchor="end">1997</text>
<line x1="326.12" y1="478.6" x2="326.12" y2="490.9" stroke="#333" stroke-width="1.3"/>
<text transform="translate(329.31,496.7) rotate(-45) scale(1.04,1)" font-size="7.2" style="stroke-width:0.3px" text-anchor="end">1998</text>
<line x1="333.1" y1="478.6" x2="333.1" y2="490.9" stroke="#333" stroke-width="1.3"/>
<text transform="translate(338.51,496.7) rotate(-45) scale(1.04,1)" font-size="7.2" style="stroke-width:0.3px" text-anchor="end">1999</text>
<line x1="347.04" y1="478.6" x2="347.04" y2="490.9" stroke="#333" stroke-width="1.3"/>
<text transform="translate(351.34,496.7) rotate(-45) scale(1.04,1)" font-size="7.2" style="stroke-width:0.3px" text-anchor="end">2000</text>
<line x1="360.99" y1="478.6" x2="360.99" y2="490.9" stroke="#333" stroke-width="1.3"/>
<text transform="translate(365.29,496.7) rotate(-45) scale(1.04,1)" font-size="7.2" style="stroke-width:0.3px" text-anchor="end">2002</text>
<line x1="381.91" y1="478.6" x2="381.91" y2="490.9" stroke="#333" stroke-width="1.3"/>
<text transform="translate(386.21,496.7) rotate(-45) scale(1.04,1)" font-size="7.2" style="stroke-width:0.3px" text-anchor="end">2003</text>
<line x1="395.86" y1="478.6" x2="395.86" y2="490.9" stroke="#333" stroke-width="1.3"/>
<text transform="translate(399.05,496.7) rotate(-45) scale(1.04,1)" font-size="7.2" style="stroke-width:0.3px" text-anchor="end">2004</text>
<line x1="402.84" y1="478.6" x2="402.84" y2="490.9" stroke="#333" stroke-width="1.3"/>
<text transform="translate(408.25,496.7) rotate(-45) scale(1.04,1)" font-size="7.2" style="stroke-width:0.3px" text-anchor="end">2005</text>
<line x1="416.78" y1="478.6" x2="416.78" y2="490.9" stroke="#333" stroke-width="1.3"/>
<text transform="translate(421.08,496.7) rotate(-45) scale(1.04,1)" font-size="7.2" style="stroke-width:0.3px" text-anchor="end">2008</text>
<line x1="430.73" y1="478.6" x2="430.73" y2="490.9" stroke="#333" stroke-width="1.3"/>
<text transform="translate(435.03,496.7) rotate(-45) scale(1.04,1)" font-size="7.2" style="stroke-width:0.3px" text-anchor="end">2009</text>
<line x1="451.65" y1="478.6" x2="451.65" y2="490.9" stroke="#333" stroke-width="1.3"/>
<text transform="translate(455.95,496.7) rotate(-45) scale(1.04,1)" font-size="7.2" style="stroke-width:0.3px" text-anchor="end">2010</text>
<line x1="472.58" y1="478.6" x2="472.58" y2="490.9" stroke="#333" stroke-width="1.3"/>
<text transform="translate(476.88,496.7) rotate(-45) scale(1.04,1)" font-size="7.2" style="stroke-width:0.3px" text-anchor="end">2011</text>
<line x1="493.5" y1="478.6" x2="493.5" y2="490.9" stroke="#333" stroke-width="1.3"/>
<text transform="translate(497.8,496.7) rotate(-45) scale(1.04,1)" font-size="7.2" style="stroke-width:0.3px" text-anchor="end">2012</text>
<line x1="514.42" y1="478.6" x2="514.42" y2="490.9" stroke="#333" stroke-width="1.3"/>
<text transform="translate(515.38,496.7) rotate(-45) scale(1.04,1)" font-size="7.2" style="stroke-width:0.3px" text-anchor="end">2013</text>
<line x1="521.39" y1="478.6" x2="521.39" y2="490.9" stroke="#333" stroke-width="1.3"/>
<text transform="translate(524.58,496.7) rotate(-45) scale(1.04,1)" font-size="7.2" style="stroke-width:0.3px" text-anchor="end">2014</text>
<line x1="528.37" y1="478.6" x2="528.37" y2="490.9" stroke="#333" stroke-width="1.3"/>
<text transform="translate(533.78,496.7) rotate(-45) scale(1.04,1)" font-size="7.2" style="stroke-width:0.3px" text-anchor="end">2015</text>
<line x1="535.34" y1="478.6" x2="535.34" y2="490.9" stroke="#333" stroke-width="1.3"/>
<text transform="translate(542.98,496.7) rotate(-45) scale(1.04,1)" font-size="7.2" style="stroke-width:0.3px" text-anchor="end">2017</text>
<line x1="563.24" y1="478.6" x2="563.24" y2="490.9" stroke="#333" stroke-width="1.3"/>
<text transform="translate(567.54,496.7) rotate(-45) scale(1.04,1)" font-size="7.2" style="stroke-width:0.3px" text-anchor="end">2018</text>
<text x="43.2" y="304" font-size="11.3">r=0.23*</text>
<text x="6.3" y="284.5" font-size="13">(c)</text>
<text x="312.2" y="531.9" font-size="21.5" text-anchor="middle" style="stroke:none">Year</text>
<text x="445.6" y="464.9" font-size="8.3">SATA in EA</text>
<text x="441.8" y="476.8" font-size="8.1">Normalized Z500 at central NACV</text>
</svg>
</body></html>
